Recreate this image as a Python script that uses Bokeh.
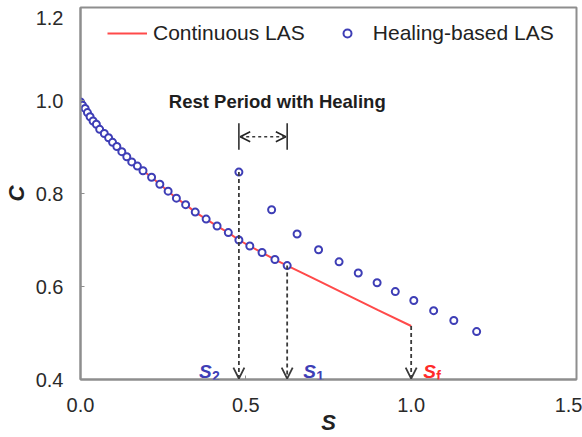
from bokeh.plotting import figure
from bokeh.models import Arrow, OpenHead, Label, Range1d, FixedTicker, PrintfTickFormatter
from bokeh.embed import file_html
from bokeh.resources import INLINE

# Continuous LAS curve (C vs S)
cont_s = [0.0, 0.006, 0.014, 0.021, 0.029, 0.038, 0.048, 0.058, 0.072, 0.085, 0.097, 0.110, 0.125,
          0.140, 0.155, 0.172, 0.189, 0.215, 0.240, 0.265, 0.290, 0.318, 0.347, 0.380, 0.413,
          0.447, 0.479, 0.512, 0.549, 0.588, 0.625, 0.70, 0.80, 0.90, 1.0]
cont_c = [0.997, 0.990, 0.983, 0.974, 0.965, 0.956, 0.949, 0.938, 0.929, 0.920, 0.910, 0.901, 0.890,
          0.879, 0.868, 0.859, 0.849, 0.835, 0.820, 0.805, 0.790, 0.776, 0.760, 0.745, 0.730,
          0.716, 0.700, 0.687, 0.673, 0.658, 0.645, 0.619, 0.584, 0.549, 0.515]

# Healing-based LAS points
heal_s = [0.0, 0.006, 0.014, 0.021, 0.029, 0.038, 0.048, 0.058, 0.072, 0.085, 0.097, 0.110, 0.125,
          0.140, 0.155, 0.172, 0.189, 0.215, 0.240, 0.265, 0.290, 0.318, 0.347, 0.380, 0.413,
          0.447, 0.479, 0.512, 0.549, 0.588, 0.625,
          0.479, 0.578, 0.655, 0.720, 0.782, 0.840, 0.897, 0.952, 1.008, 1.068, 1.129, 1.198]
heal_c = [0.997, 0.990, 0.983, 0.974, 0.965, 0.956, 0.949, 0.938, 0.929, 0.920, 0.910, 0.901, 0.890,
          0.879, 0.868, 0.859, 0.849, 0.835, 0.820, 0.805, 0.790, 0.776, 0.760, 0.745, 0.730,
          0.716, 0.700, 0.687, 0.673, 0.658, 0.645,
          0.846, 0.765, 0.713, 0.679, 0.653, 0.629, 0.608, 0.589, 0.570, 0.548, 0.527, 0.503]

# Marked damage levels
s2, s2_top = 0.479, 0.846
s1, s1_top = 0.625, 0.645
sf, sf_top = 1.0, 0.515

x_ticks = [0.0, 0.5, 1.0, 1.5]
y_ticks = [0.4, 0.6, 0.8, 1.0, 1.2]

FONT = "Liberation Sans"
BLUE = "#3e3eb6"
RED = "#ff4a4a"
GRAY = "#8e8e8e"
DARK = "#3a3a3a"

p = figure(width=582, height=437, output_backend="svg", toolbar_location=None,
           x_range=Range1d(0, 1.5), y_range=Range1d(0.4, 1.2),
           min_border_left=78, min_border_right=6, min_border_top=7, min_border_bottom=57)
p.background_fill_color = "white"
p.border_fill_color = "white"
p.outline_line_color = GRAY
p.outline_line_width = 2
p.xgrid.visible = False
p.ygrid.visible = False

for ax in (p.xaxis[0], p.yaxis[0]):
    ax.axis_line_color = GRAY
    ax.axis_line_width = 2
    ax.major_tick_line_color = GRAY
    ax.major_tick_in = 4
    ax.major_tick_out = 0
    ax.minor_tick_line_color = None
    ax.major_label_text_font = FONT
    ax.major_label_text_font_size = "20px"
    ax.major_label_text_color = "#2a2a2a"
    ax.formatter = PrintfTickFormatter(format="%.1f")
    ax.axis_label_text_font = FONT
    ax.axis_label_text_font_style = "bold italic"
    ax.axis_label_text_font_size = "22px"
    ax.axis_label_text_color = "#222222"

p.xaxis[0].ticker = FixedTicker(ticks=x_ticks)
p.xaxis[0].major_label_standoff = 18
p.xaxis[0].axis_label = "S"
p.xaxis[0].axis_label_standoff = -5
p.yaxis[0].ticker = FixedTicker(ticks=y_ticks)
p.yaxis[0].major_label_standoff = 17
# the top tick label sits just below its tick, as in the source
p.yaxis[0].major_label_overrides = {1.2: "\n1.2"}
p.yaxis[0].major_label_text_line_height = 0.3
p.yaxis[0].axis_label = "C"
p.yaxis[0].axis_label_standoff = 4

p.line(cont_s, cont_c, line_color=RED, line_width=2, legend_label="Continuous LAS")
p.scatter(heal_s, heal_c, marker="circle", size=7, fill_color="white", line_color=BLUE,
          line_width=2, legend_label="Healing-based LAS")

# dashed arrows down to the S axis
for sx, top in ((s2, s2_top), (s1, s1_top), (sf, sf_top)):
    p.add_layout(Arrow(x_start=sx, y_start=top, x_end=sx, y_end=0.402,
                       line_color=DARK, line_width=1.8, line_dash="4 3",
                       end=OpenHead(size=11, line_color=DARK, line_width=1.8)))

# rest period bracket
p.segment(x0=[s2, s1], y0=[0.894, 0.894], x1=[s2, s1], y1=[0.951, 0.951],
          line_color="#222222", line_width=1.5)
p.add_layout(Arrow(x_start=s2 + 0.004, y_start=0.922, x_end=s1 - 0.004, y_end=0.922,
                   line_color=DARK, line_width=1.5, line_dash="3 3",
                   start=OpenHead(size=10, line_color="#222222", line_width=1.5),
                   end=OpenHead(size=10, line_color="#222222", line_width=1.5)))
p.add_layout(Label(x=(s2 + s1) / 2 + 0.043, y=0.997, text="Rest Period with Healing",
                   text_font=FONT, text_font_style="bold", text_font_size="18.5px",
                   text_color="#1e1e1e", text_align="center", text_baseline="middle"))

# S labels
def s_label(x, dx_s, dx_sub, sub, color):
    p.add_layout(Label(x=x, y=0.417, x_offset=dx_s, text="S", text_font=FONT,
                       text_font_style="bold italic", text_font_size="19px",
                       text_color=color, text_align="left", text_baseline="alphabetic"))
    p.add_layout(Label(x=x, y=0.408, x_offset=dx_sub, text=sub, text_font=FONT,
                       text_font_style="bold", text_font_size="14px",
                       text_color=color, text_align="left", text_baseline="alphabetic"))

s_label(s2, -40, -27, "2", BLUE)
s_label(s1, 16, 29, "1", BLUE)
s_label(sf, 12, 25, "f", "#ff2a2a")

lg = p.legend[0]
lg.orientation = "horizontal"
lg.location = (27, 334)
lg.border_line_color = None
lg.background_fill_alpha = 0
lg.padding = 0
lg.margin = 0
lg.spacing = 22
lg.glyph_width = 40
lg.glyph_height = 20
lg.label_standoff = 6
lg.label_text_font = FONT
lg.label_text_font_size = "21px"
lg.label_text_color = "#222222"

open("out.html", "w").write(file_html(p, INLINE))
